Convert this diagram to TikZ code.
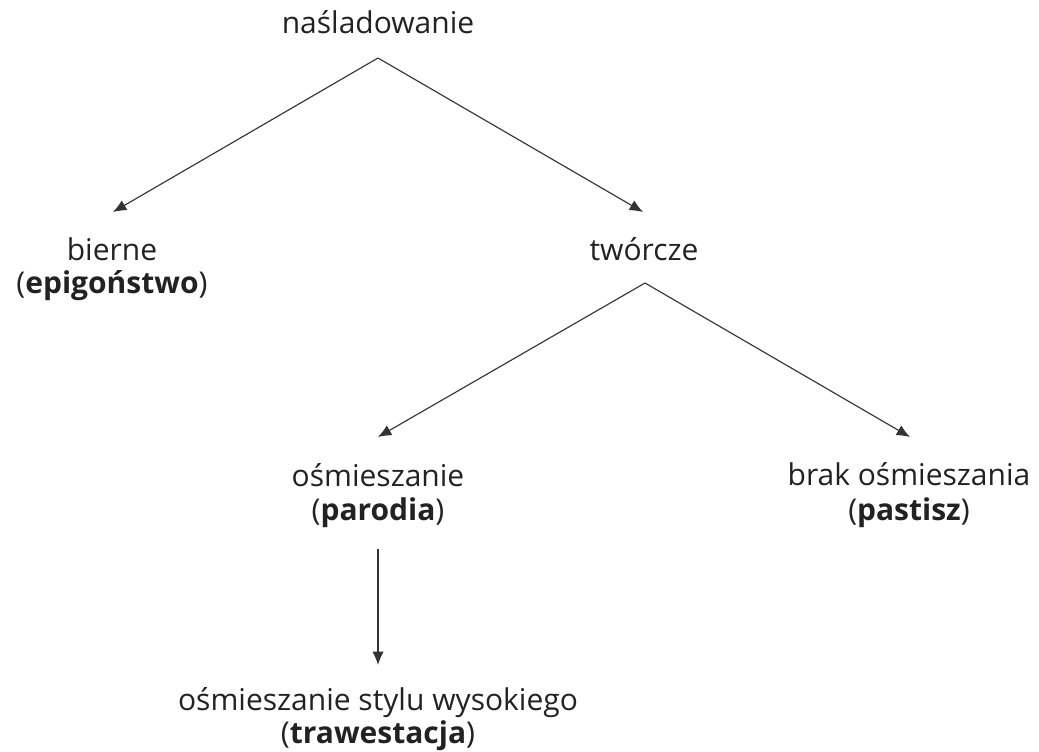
\documentclass[tikz,border=0pt]{standalone}
\usepackage{fontspec}
\setmainfont{Open Sans}
\usetikzlibrary{arrows.meta,calc}
\definecolor{txt}{HTML}{222222}
\definecolor{ln}{HTML}{333333}
\tikzset{
  lbl/.style={anchor=base,inner sep=0pt,text=txt,font=\fontsize{22.5}{27}\selectfont},
  arr/.style={draw=ln,line width=0.85pt,-{Latex[length=10pt,width=8.5pt]}}
}
\begin{document}
\begin{tikzpicture}[x=0.75pt,y=-0.75pt]
\useasboundingbox (0,0) rectangle (1039,751);
% labels (baselines in px)
\node[lbl] (nas) at (378,33) {naśladowanie};
\node[lbl] (bierne) at (112,260) {bierne};
\node[lbl] (bierne2) at (112,293) {(\textbf{epigoństwo})};
\node[lbl] (tworcze) at (644,260) {twórcze};
\node[lbl] (osm) at (378,486) {ośmieszanie};
\node[lbl] (osm2) at (378,520) {(\textbf{parodia})};
\node[lbl] (brak) at (909,485) {brak ośmieszania};
\node[lbl] (brak2) at (909,520) {(\textbf{pastisz})};
\node[lbl] (styl) at (378,710) {ośmieszanie stylu wysokiego};
\node[lbl] (styl2) at (378,743) {(\textbf{trawestacja})};
% connectors
\draw[arr] ($(nas.base)+(0,25)$) -- ($(bierne.base)+(1,-48)$);
\draw[arr] ($(nas.base)+(0,25)$) -- ($(tworcze.base)+(-1,-48)$);
\draw[arr] ($(tworcze.base)+(1,23)$) -- ($(osm.base)+(0,-49)$);
\draw[arr] ($(tworcze.base)+(1,23)$) -- ($(brak.base)+(1,-48)$);
\draw[arr] ($(osm2.base)+(0,29)$) -- ($(styl.base)+(0,-45)$);
\end{tikzpicture}
\end{document}
